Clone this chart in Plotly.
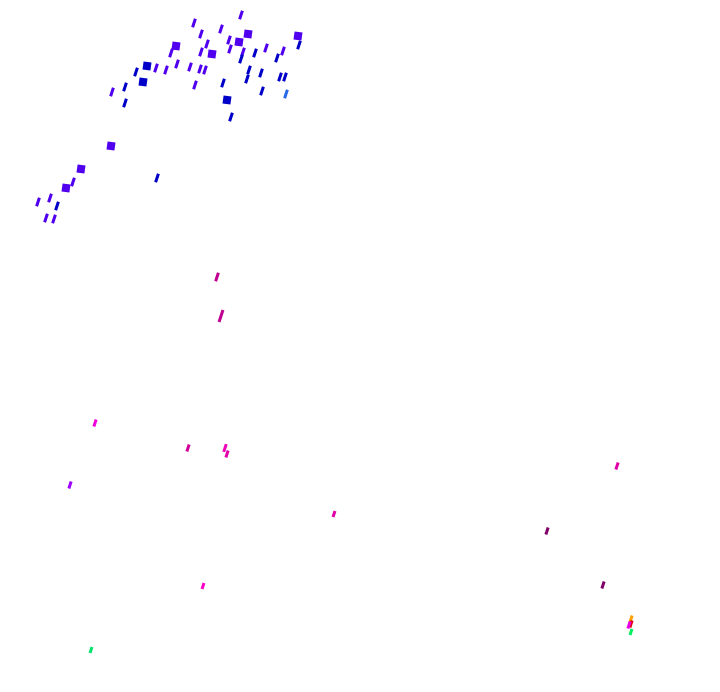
import plotly.graph_objects as go

# points (x, y in picture units), value -> colour, magnitude -> mark size
xs = [241, 194, 221, 201, 248, 298, 299, 239, 229, 176, 207, 230, 212, 243, 241, 201, 171, 266, 283, 255, 277,
      147, 156, 136, 166, 177, 190, 200, 205, 249, 247, 261, 280, 285, 143, 125, 112, 223, 195, 262, 286, 125,
      227, 231,
      111, 81, 157, 73, 66, 50, 38, 57, 46, 54,
      217, 221,
      617, 603, 631, 631, 629, 631,
      95, 188, 225, 227, 70, 334, 547, 203, 91]
ys = [15, 23, 29, 34, 34, 36, 45, 42, 40, 46, 44, 49, 54, 52, 59, 52, 53, 48, 51, 53, 58,
      66, 68, 72, 70, 64, 67, 69, 70, 70, 79, 73, 77, 77, 82, 87, 92, 83, 85, 91, 94, 103,
      100, 117,
      146, 169, 178, 182, 188, 198, 202, 206, 218, 219,
      277, 316,
      466, 585, 619, 624, 625, 632,
      423, 448, 448, 454, 485, 514, 531, 586, 650]
vals = [0.50, 0.50, 0.50, 0.50, 0.50, 0.50, 0.35, 0.50, 0.50, 0.50, 0.50, 0.50, 0.50, 0.50, 0.35, 0.50, 0.50, 0.50, 0.50, 0.35, 0.35,
        0.35, 0.50, 0.35, 0.50, 0.50, 0.50, 0.50, 0.50, 0.35, 0.35, 0.35, 0.35, 0.35, 0.35, 0.35, 0.50, 0.35, 0.50, 0.35, 0.20, 0.35,
        0.35, 0.35,
        0.50, 0.50, 0.35, 0.50, 0.50, 0.50, 0.50, 0.35, 0.50, 0.50,
        0.85, 0.85,
        0.80, 0.90, 1.00, 0.95, 0.70, 0.00,
        0.72, 0.82, 0.78, 0.80, 0.60, 0.80, 0.90, 0.76, 0.02]
mags = [1, 1, 1, 1, 2, 2, 1, 2, 1, 2, 1, 1, 2, 1, 1, 1, 1, 1, 1, 1, 1,
        2, 1, 1, 1, 1, 1, 1, 1, 1, 1, 1, 1, 1, 2, 1, 1, 1, 1, 1, 1, 1,
        2, 1,
        2, 2, 1, 1, 2, 1, 1, 1, 1, 1,
        1, 1.4,
        0.8, 0.8, 0.8, 0.8, 0.8, 0.7,
        0.8, 0.8, 0.9, 0.8, 0.8, 0.7, 0.8, 0.7, 0.7]

scale = [
    [0.00, "#00f060"], [0.10, "#10b0a0"], [0.20, "#2a6ae8"], [0.35, "#0000c8"],
    [0.50, "#5000ee"], [0.60, "#a000ff"], [0.70, "#e800e8"], [0.76, "#ff00c8"],
    [0.80, "#e000a8"], [0.85, "#c00090"], [0.90, "#800068"], [0.95, "#e00010"],
    [1.00, "#ffa000"],
]

small = [i for i, m in enumerate(mags) if m < 1.5]
large = [i for i, m in enumerate(mags) if m >= 1.5]

fig = go.Figure()
fig.add_trace(go.Scatter(
    x=[xs[i] for i in small], y=[ys[i] for i in small], mode="markers",
    marker=dict(symbol="line-ns", size=[6.5 * mags[i] for i in small], angle=18, opacity=1,
                line=dict(width=3, color=[vals[i] for i in small], colorscale=scale,
                          cmin=0, cmax=1)),
    hoverinfo="skip", showlegend=False))
fig.add_trace(go.Scatter(
    x=[xs[i] for i in large], y=[ys[i] for i in large], mode="markers",
    marker=dict(symbol="square", size=8, angle=8, opacity=1,
                color=[vals[i] for i in large], colorscale=scale, cmin=0, cmax=1,
                line=dict(width=0)),
    hoverinfo="skip", showlegend=False))

# the page body has an 8px margin, so shift the ranges to keep picture coordinates
fig.update_layout(
    width=720, height=692, margin=dict(l=0, r=0, t=0, b=0),
    paper_bgcolor="white", plot_bgcolor="white",
    xaxis=dict(range=[8, 728], visible=False, fixedrange=True),
    yaxis=dict(range=[700, 8], visible=False, fixedrange=True),
)
fig.write_html("out.html")
